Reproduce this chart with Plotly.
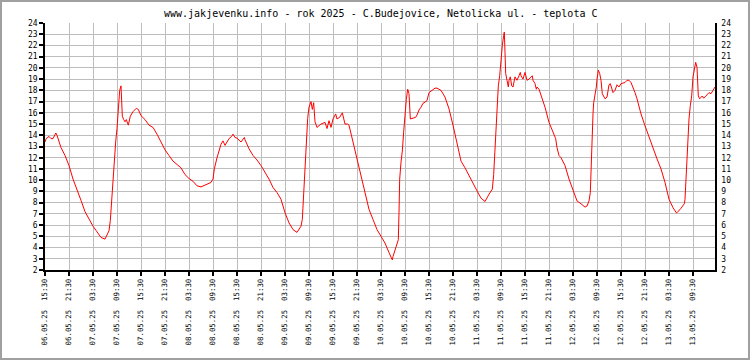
import plotly.graph_objects as go

# hours after 06.05.25 15:30
hours = [0, 0.3, 1, 1.5, 2, 2.7, 3, 4, 5, 6, 7, 8, 9, 10, 11, 12, 13, 14, 15, 16,
         16.33, 16.67, 17, 17.5, 17.67, 18, 18.33, 18.67, 19, 19.33, 19.67, 20, 20.33, 20.83, 21.33, 22,
         22.83, 23.33, 24, 25, 26, 27, 28, 29, 30, 31, 32, 33, 34, 35, 36, 37, 38, 39, 40, 41,
         41.5, 42, 42.33, 43, 44, 44.5, 45, 45.5, 46, 46.67, 47, 47.5, 48, 49, 49.83, 50, 51, 52,
         53, 54, 55, 56, 57, 58, 59, 60, 61, 62, 63, 64, 64.33, 64.67, 65, 65.33, 65.67, 66,
         66.5, 66.83, 67.17, 67.5, 68, 69, 70, 70.5, 71, 71.5, 72, 72.67, 73, 73.67, 74, 74.33,
         75, 75.67, 76, 77, 78, 79, 80, 81, 82, 83, 84, 85, 86, 86.83, 87, 88, 88.33, 88.5,
         88.67, 89, 89.33, 89.67, 90, 90.33, 90.67, 91, 91.33, 92, 92.67, 93, 93.5, 94, 94.5,
         95, 95.5, 96, 97, 97.5, 98, 99, 100, 101, 102, 103, 104, 105, 106, 107, 108, 109,
         110, 111, 111.83, 112.17, 112.5, 112.83, 113, 113.33, 113.67, 114, 114.33, 114.67,
         114.83, 115, 115.17, 115.5, 115.83, 116, 116.33, 116.67, 117, 117.5, 118, 118.5,
         118.83, 119, 119.5, 120, 120.5, 121, 121.5, 121.83, 122, 122.5, 122.83, 123, 123.5,
         124, 125, 126, 127, 127.67, 128, 128.5, 129, 130, 131, 132, 132.5, 133, 134, 135,
         135.5, 136, 136.33, 136.5, 136.83, 137, 137.17, 137.5, 137.83, 138, 138.33, 138.67,
         139, 139.33, 139.83, 140, 140.5, 141, 141.33, 141.67, 142, 142.5, 143, 143.5, 144,
         144.5, 145, 145.5, 146, 146.5, 147, 147.5, 148, 149, 150, 151, 152, 153, 154, 155,
         156, 157, 157.83, 158, 159, 159.83, 160, 160.33, 160.67, 161, 161.33, 161.67, 162,
         162.33, 162.67, 163, 163.33, 163.67, 164, 164.33, 164.67, 165, 165.5, 166, 166.5,
         167, 167.5]

temps = [13.4, 13.7, 13.9, 13.7, 13.7, 14.2, 14.0, 12.9, 12.2, 11.3, 10.1, 9.05, 8.2, 7.2, 6.5, 5.9, 5.4, 4.9, 4.75, 5.5,
         6.4, 8.3, 10.1, 11.9, 13.4, 14.6, 16.9, 18.0, 18.4, 15.7, 15.4, 15.2, 15.4, 14.9, 15.7, 16.1,
         16.4, 16.3, 15.75, 15.4, 14.9, 14.7, 14.1, 13.4, 12.7, 12.2, 11.7, 11.4, 11.1, 10.5, 10.15, 9.9, 9.5, 9.4, 9.55, 9.7,
         9.8, 10.1, 11.0, 12.0, 13.2, 13.5, 13.1, 13.4, 13.7, 13.9, 14.1, 13.8, 13.75, 13.4, 13.8, 13.6, 12.8, 12.2,
         11.8, 11.3, 10.7, 10.1, 9.35, 8.9, 8.3, 7.1, 6.2, 5.6, 5.35, 5.9, 6.5, 8.6, 11.6, 13.7, 15.5, 16.5,
         17.0, 16.3, 16.9, 15.2, 14.7, 15.0, 15.15, 14.6, 15.3, 14.7, 15.45, 15.9, 15.45, 15.6, 15.8, 16.0,
         15.0, 15.0, 14.9, 13.4, 11.9, 10.5, 8.9, 7.4, 6.5, 5.6, 5.0, 4.4, 3.55, 2.9, 3.2, 4.45, 4.7, 7.1,
         10.1, 11.6, 12.6, 14.3, 15.9, 17.2, 18.1, 17.7, 15.45, 15.5, 15.6, 15.8, 16.25, 16.5, 16.85,
         16.95, 17.1, 17.8, 18.1, 18.2, 18.2, 18.0, 17.4, 16.35, 14.9, 13.4, 11.7, 11.1, 10.4, 9.65, 9.05, 8.4,
         8.1, 8.75, 9.2, 10.5, 12.8, 14.85, 16.05, 18.4, 19.3, 20.8, 22.0, 22.9,
         23.2, 21.4, 19.5, 18.9, 18.3, 18.9, 19.2, 18.4, 18.3, 19.2, 18.9, 19.3,
         19.6, 19.3, 19.0, 19.6, 18.9, 19.0, 19.2, 19.3, 18.9, 18.6, 18.1, 18.3, 18.1,
         17.6, 16.5, 15.15, 14.3, 13.7, 12.9, 12.2, 12.0, 11.3, 10.1, 9.15, 8.75, 8.15, 7.9, 7.6,
         7.7, 8.15, 8.9, 11.3, 14.3, 15.9, 16.9, 17.5, 18.3, 19.0, 19.8, 19.5,
         18.9, 17.7, 17.4, 17.25, 17.4, 18.5, 18.6, 18.1, 17.8, 18.0, 18.5, 18.3, 18.6,
         18.65, 18.7, 18.9, 18.9, 18.7, 18.3, 17.8, 17.25, 15.9, 14.85, 13.8, 12.9, 11.9, 11.0, 9.8,
         8.3, 7.55, 7.1, 7.1, 7.5, 7.9, 8.3, 10.85, 13.4, 15.45, 16.65, 17.5, 19.2,
         19.9, 20.5, 20.05, 17.5, 17.25, 17.4, 17.5, 17.3, 17.4, 17.6, 17.8, 17.7,
         18.0, 18.3]

tick_labels = [
    "06.05.25  15:30", "06.05.25  21:30", "07.05.25  03:30", "07.05.25  09:30",
    "07.05.25  15:30", "07.05.25  21:30", "08.05.25  03:30", "08.05.25  09:30",
    "08.05.25  15:30", "08.05.25  21:30", "09.05.25  03:30", "09.05.25  09:30",
    "09.05.25  15:30", "09.05.25  21:30", "10.05.25  03:30", "10.05.25  09:30",
    "10.05.25  15:30", "10.05.25  21:30", "11.05.25  03:30", "11.05.25  09:30",
    "11.05.25  15:30", "11.05.25  21:30", "12.05.25  03:30", "12.05.25  09:30",
    "12.05.25  15:30", "12.05.25  21:30", "13.05.25  03:30", "13.05.25  09:30",
]
tick_hours = [6 * i for i in range(len(tick_labels))]
y_ticks = list(range(2, 25))

title_text = "www.jakjevenku.info - rok 2025 - C.Budejovice, Netolicka ul. - teplota C"

MONO = "DejaVu Sans Mono"

fig = go.Figure()
fig.add_trace(go.Scatter(x=hours, y=temps, mode="lines",
                         line=dict(color="#ff0000", width=1), showlegend=False,
                         hoverinfo="skip"))
fig.add_trace(go.Scatter(x=hours, y=temps, mode="lines", yaxis="y2",
                         line=dict(color="rgba(0,0,0,0)", width=0), showlegend=False,
                         hoverinfo="skip"))

W, H = 750, 360
L, R, T, B = 45, 35, 23, 90
pw, ph = W - L - R, H - T - B

fig.update_layout(
    width=W, height=H,
    margin=dict(l=L, r=R, t=T, b=B, pad=0),
    paper_bgcolor="white", plot_bgcolor="white",
    xaxis=dict(range=[0, 167.5], tickmode="array", tickvals=tick_hours, ticktext=tick_labels,
               tickangle=-90, tickfont=dict(family=MONO, size=7.4, color="black"),
               showgrid=True, gridcolor="#bdbdbd", gridwidth=1,
               showline=True, linecolor="black", linewidth=1.5,
               ticks="outside", ticklen=4, tickcolor="black", tickwidth=1.5,
               zeroline=False, fixedrange=True),
    yaxis=dict(range=[2, 24], tickmode="array", tickvals=y_ticks,
               tickfont=dict(family=MONO, size=8, color="black"),
               showgrid=True, gridcolor="#bdbdbd", gridwidth=1,
               showline=True, linecolor="black", linewidth=1.5,
               ticks="outside", ticklen=4, tickcolor="black", tickwidth=1.5,
               zeroline=False, fixedrange=True),
    yaxis2=dict(range=[2, 24], tickmode="array", tickvals=y_ticks, overlaying="y", side="right",
                tickfont=dict(family=MONO, size=8, color="black"),
                showgrid=False, showline=True, linecolor="black", linewidth=1.5,
                ticks="", zeroline=False, fixedrange=True, ticklabelstandoff=3),
)

fig.add_annotation(text=title_text, xref="paper", yref="paper", x=0.5, xanchor="center",
                   y=(ph + T - 13) / ph, yanchor="middle", showarrow=False,
                   font=dict(family=MONO, size=10, color="black"))

# outer grey frame of the image
fig.add_shape(type="rect", xref="paper", yref="paper",
              x0=(1 - L) / pw, x1=(W - 1 - L) / pw,
              y0=-(B - 1) / ph, y1=(ph + T - 1) / ph,
              line=dict(color="#a0a0a0", width=2), fillcolor="rgba(0,0,0,0)", layer="above")

fig.write_html("out.html", config={"displayModeBar": False},
               post_script="document.body.style.margin='0';document.body.style.padding='0';")
